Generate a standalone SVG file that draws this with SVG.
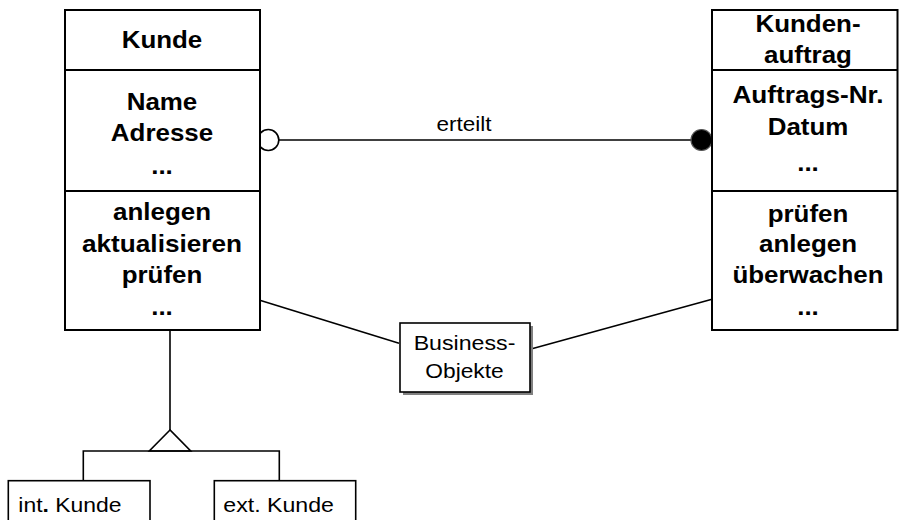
<svg xmlns="http://www.w3.org/2000/svg" width="899" height="520" viewBox="0 0 899 520">
  <style>
    .box { fill: #ffffff; stroke: #000000; stroke-width: 2; }
    .sep { stroke: #000000; stroke-width: 2; }
    .b { font-family: "Liberation Sans", Arial, sans-serif; font-weight: bold; font-size: 24px; fill: #000000; text-anchor: middle; }
    .r { font-family: "Liberation Sans", Arial, sans-serif; font-size: 21px; fill: #000000; }
    .c { text-anchor: middle; }
    .line { fill: none; stroke: #000000; stroke-width: 1.6; }
  </style>

  <rect width="899" height="520" fill="#ffffff"/>

  <!-- connectors -->
  <g id="connectors">
    <!-- association "erteilt" -->
    <line class="line" x1="279" y1="140" x2="691" y2="140"/>
    <text class="r c" x="464" y="131" textLength="55" lengthAdjust="spacingAndGlyphs">erteilt</text>
    <circle cx="268.3" cy="140" r="10.5" fill="#ffffff" stroke="#000000" stroke-width="1.6"/>
    <circle cx="701.5" cy="140" r="10.5" fill="#000000" stroke="#555555" stroke-width="1.2"/>
    <!-- links to the note -->
    <line class="line" x1="259" y1="300" x2="399" y2="343.3"/>
    <line class="line" x1="531" y1="349" x2="712" y2="299.3"/>
    <!-- generalisation -->
    <line class="line" x1="170" y1="331" x2="170" y2="430"/>
    <polygon points="170,430 149.3,451 190.7,451" fill="#ffffff" stroke="#000000" stroke-width="1.6" stroke-linejoin="miter"/>
    <polyline class="line" points="83.3,481 83.3,451 279.3,451 279.3,481"/>
  </g>

  <!-- class Kunde -->
  <g id="kunde">
    <rect class="box" x="65" y="10" width="195" height="320"/>
    <line class="sep" x1="65" y1="70" x2="260" y2="70"/>
    <line class="sep" x1="65" y1="191" x2="260" y2="191"/>
    <text class="b" x="162" y="47.5" textLength="80.6" lengthAdjust="spacingAndGlyphs">Kunde</text>
    <text class="b" x="162" y="110" textLength="70.6" lengthAdjust="spacingAndGlyphs">Name</text>
    <text class="b" x="162" y="141" textLength="102.3" lengthAdjust="spacingAndGlyphs">Adresse</text>
    <text class="b" x="162" y="174" textLength="21.6" lengthAdjust="spacingAndGlyphs">...</text>
    <text class="b" x="162" y="220" textLength="98" lengthAdjust="spacingAndGlyphs">anlegen</text>
    <text class="b" x="162" y="251.5" textLength="160" lengthAdjust="spacingAndGlyphs">aktualisieren</text>
    <text class="b" x="162" y="283" textLength="80.6" lengthAdjust="spacingAndGlyphs">prüfen</text>
    <text class="b" x="162" y="315" textLength="21.6" lengthAdjust="spacingAndGlyphs">...</text>
  </g>

  <!-- class Kundenauftrag -->
  <g id="kundenauftrag">
    <rect class="box" x="712" y="10" width="185.5" height="320"/>
    <line class="sep" x1="712" y1="70" x2="898" y2="70"/>
    <line class="sep" x1="712" y1="191" x2="898" y2="191"/>
    <text class="b" x="808" y="31.5" textLength="105.1" lengthAdjust="spacingAndGlyphs">Kunden-</text>
    <text class="b" x="808" y="63.3" textLength="87.8" lengthAdjust="spacingAndGlyphs">auftrag</text>
    <text class="b" x="808" y="103.3" textLength="151.2" lengthAdjust="spacingAndGlyphs">Auftrags-Nr.</text>
    <text class="b" x="808" y="135" textLength="80.6" lengthAdjust="spacingAndGlyphs">Datum</text>
    <text class="b" x="808" y="170.5" textLength="21.6" lengthAdjust="spacingAndGlyphs">...</text>
    <text class="b" x="808" y="221.5" textLength="80.6" lengthAdjust="spacingAndGlyphs">prüfen</text>
    <text class="b" x="808" y="251.7" textLength="98" lengthAdjust="spacingAndGlyphs">anlegen</text>
    <text class="b" x="808" y="283.3" textLength="151.2" lengthAdjust="spacingAndGlyphs">überwachen</text>
    <text class="b" x="808" y="315" textLength="21.6" lengthAdjust="spacingAndGlyphs">...</text>
  </g>

  <!-- note Business-Objekte -->
  <g id="business-objekte">
    <rect x="403" y="326" width="130" height="69" fill="#808080"/>
    <rect x="400" y="323" width="130" height="69" fill="#ffffff" stroke="#000000" stroke-width="1.6"/>
    <text class="r c" x="464.5" y="350" font-size="22" textLength="101.7" lengthAdjust="spacingAndGlyphs">Business-</text>
    <text class="r c" x="464.5" y="378" font-size="22" textLength="78.3" lengthAdjust="spacingAndGlyphs">Objekte</text>
  </g>

  <!-- subclass int. Kunde -->
  <g id="int-kunde">
    <rect x="8.3" y="480.7" width="141.7" height="45" fill="#ffffff" stroke="#000000" stroke-width="1.6"/>
    <text class="r" x="18.3" y="511.7" textLength="103.3" lengthAdjust="spacingAndGlyphs">int<tspan font-weight="bold">.</tspan> Kunde</text>
  </g>

  <!-- subclass ext. Kunde -->
  <g id="ext-kunde">
    <rect x="214.3" y="480.7" width="141.4" height="45" fill="#ffffff" stroke="#000000" stroke-width="1.6"/>
    <text class="r" x="223.3" y="511.7" textLength="110.7" lengthAdjust="spacingAndGlyphs">ext. Kunde</text>
  </g>
</svg>
